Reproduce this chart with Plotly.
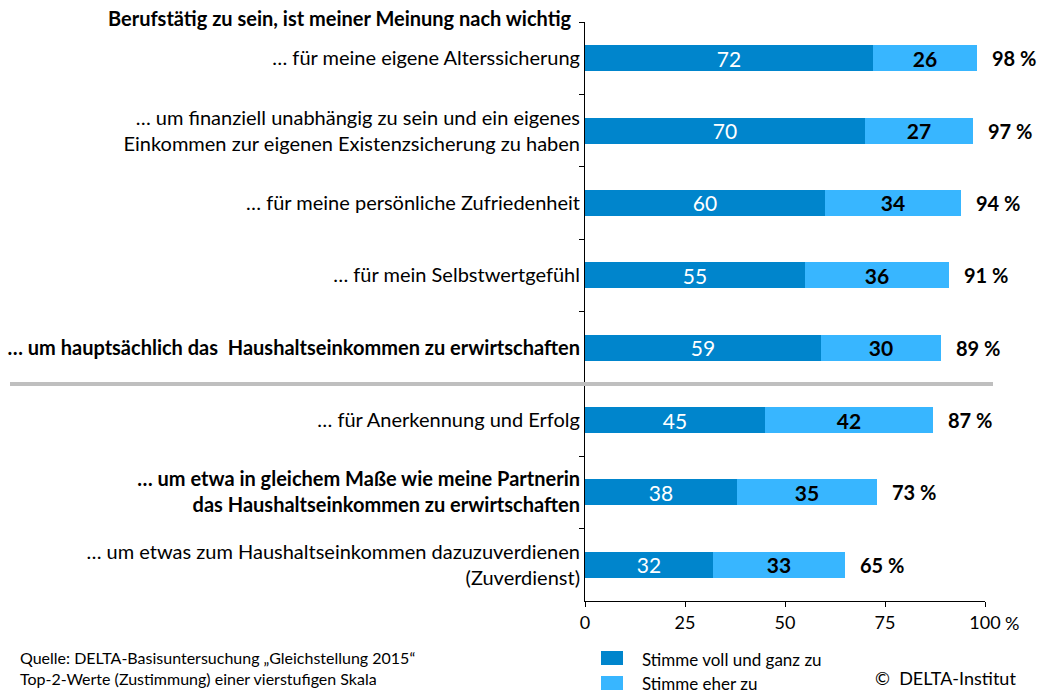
import plotly.graph_objects as go

categories = [
    "… für meine eigene Alterssicherung",
    "… um finanziell unabhängig zu sein und ein eigenes<br>Einkommen zur eigenen Existenzsicherung zu haben",
    "… für meine persönliche Zufriedenheit",
    "… für mein Selbstwertgefühl",
    "<b>… um hauptsächlich das  Haushaltseinkommen zu erwirtschaften</b>",
    "… für Anerkennung und Erfolg",
    "<b>… um etwa in gleichem Maße wie meine Partnerin<br>das Haushaltseinkommen zu erwirtschaften</b>",
    "… um etwas zum Haushaltseinkommen dazuzuverdienen<br>(Zuverdienst)",
]
voll = [72, 70, 60, 55, 59, 45, 38, 32]
eher = [26, 27, 34, 36, 30, 42, 35, 33]
totals = [98, 97, 94, 91, 89, 87, 73, 65]
x_ticks = [0, 25, 50, 75, 100]

DARK = "#0085CC"
LIGHT = "#38B6FF"
FONT = "Lato"

fig = go.Figure()
fig.add_trace(go.Bar(
    y=categories, x=voll, orientation="h", name="Stimme voll und ganz zu",
    marker=dict(color=DARK, line=dict(width=0)), width=0.36,
    text=[str(v) for v in voll], textposition="inside", insidetextanchor="middle",
    textangle=0, constraintext="none",
    textfont=dict(color="white", size=21, family=FONT),
))
fig.add_trace(go.Bar(
    y=categories, x=eher, orientation="h", name="Stimme eher zu",
    marker=dict(color=LIGHT, line=dict(width=0)), width=0.36,
    text=[f"<b>{v}</b>" for v in eher], textposition="inside", insidetextanchor="middle",
    textangle=0, constraintext="none",
    textfont=dict(color="black", size=21, family=FONT),
))
for cat, t in zip(categories, totals):
    fig.add_annotation(x=t, y=cat, xref="x", yref="y", text=f"<b>{t} %</b>",
                       xanchor="left", yanchor="middle", xshift=13, showarrow=False,
                       font=dict(color="black", size=20, family=FONT))

fig.update_layout(
    barmode="stack",
    width=1044, height=695,
    margin=dict(l=585, r=59, t=22, b=94, autoexpand=False),
    plot_bgcolor="white", paper_bgcolor="white",
    showlegend=False,
    font=dict(family=FONT, size=20, color="black"),
    uniformtext=dict(mode=False),
)
fig.update_xaxes(
    range=[0, 100], tickvals=x_ticks, ticktext=[str(v) for v in x_ticks],
    showgrid=False, zeroline=False, showline=True, linecolor="black", linewidth=1,
    ticks="outside", ticklen=5, tickcolor="black", tickfont=dict(size=18, family=FONT),
    automargin=False,
)
fig.update_yaxes(
    categoryorder="array", categoryarray=categories, range=[7.5, -0.5],
    showgrid=False, zeroline=False, showline=True, linecolor="black", linewidth=1,
    ticks="outside", ticklen=5, tickcolor="black", tickson="boundaries",
    tickfont=dict(size=20, family=FONT), automargin=False,
)

# separator line
fig.add_shape(type="line", xref="paper", yref="y", x0=-1.4375, x1=1.02, y0=4.5, y1=4.5,
              line=dict(color="#BFBFBF", width=4), layer="above")

# title
fig.add_annotation(text="<b>Berufstätig zu sein, ist meiner Meinung nach wichtig</b>",
                   xref="paper", yref="paper", x=(574 - 585) / 400, y=(601 - 18) / 579,
                   xanchor="right", yanchor="middle",
                   showarrow=False, font=dict(size=20, family=FONT))
# percent unit
fig.add_annotation(text="%", xref="paper", yref="paper", x=(1012 - 585) / 400, y=(601 - 623) / 579,
                   xanchor="center", yanchor="middle", showarrow=False,
                   font=dict(size=18, family=FONT))

# legend
leg = [("Stimme voll und ganz zu", DARK, 658, 659), ("Stimme eher zu", LIGHT, 683, 683)]
for name, col, ysq, ytx in leg:
    fig.add_shape(type="rect", xref="paper", yref="paper",
                  x0=(601 - 585) / 400, x1=(623 - 585) / 400,
                  y0=(601 - ysq - 7) / 579, y1=(601 - ysq + 7) / 579,
                  fillcolor=col, line=dict(width=0))
    fig.add_annotation(text=name, xref="paper", yref="paper", x=(640 - 585) / 400,
                       y=(601 - ytx) / 579, xanchor="left", yanchor="middle",
                       showarrow=False, font=dict(size=17, family=FONT))

fig.add_annotation(text="Quelle: DELTA-Basisuntersuchung „Gleichstellung 2015“<br>Top-2-Werte (Zustimmung) einer vierstufigen Skala",
                   xref="paper", yref="paper", x=(18 - 585) / 400, y=(601 - 668) / 579,
                   xanchor="left", yanchor="middle", align="left", showarrow=False,
                   font=dict(size=16, family=FONT))
fig.add_annotation(text="©  DELTA-Institut", xref="paper", yref="paper", x=(873 - 585) / 400,
                   y=(601 - 678) / 579, xanchor="left", yanchor="middle", showarrow=False,
                   font=dict(size=18, family=FONT))

fig.write_html("out.html", config={"displayModeBar": False},
               post_script="document.body.style.margin='0';document.body.style.overflow='hidden';")
